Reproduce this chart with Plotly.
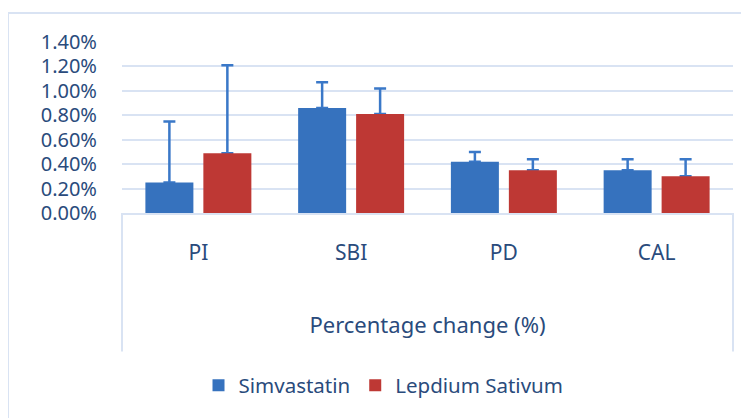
import plotly.graph_objects as go

categories = ["PI", "SBI", "PD", "CAL"]
simvastatin = [0.0025, 0.0086, 0.0042, 0.0035]
simvastatin_err = [0.0050, 0.0021, 0.0008, 0.0009]
lepidium = [0.0049, 0.0081, 0.0035, 0.0030]
lepidium_err = [0.0072, 0.0021, 0.0009, 0.0014]
tick_vals = [0, 0.002, 0.004, 0.006, 0.008, 0.010, 0.012, 0.014]

TEXT = "#2A4B7C"
GRID = "#D9E3F3"
FONT = "Noto Sans"
ERR = dict(color="#3A78C8", thickness=2.5, width=6)

fig = go.Figure()
# error-bar carriers (drawn first, so the bars hide the lower caps)
fig.add_trace(go.Bar(
    x=categories, y=simvastatin, offsetgroup="s", showlegend=False, hoverinfo="skip",
    marker=dict(color="rgba(0,0,0,0)", line=dict(width=0)),
    error_y=dict(type="data", array=simvastatin_err, arrayminus=[0]*4, symmetric=False, **ERR),
))
fig.add_trace(go.Bar(
    x=categories, y=lepidium, offsetgroup="l", showlegend=False, hoverinfo="skip",
    marker=dict(color="rgba(0,0,0,0)", line=dict(width=0)),
    error_y=dict(type="data", array=lepidium_err, arrayminus=[0]*4, symmetric=False, **ERR),
))
fig.add_trace(go.Bar(
    name="Simvastatin", x=categories, y=simvastatin, offsetgroup="s",
    marker=dict(color="#3672BE", line=dict(width=0)),
))
fig.add_trace(go.Bar(
    name="Lepdium Sativum", x=categories, y=lepidium, offsetgroup="l",
    marker=dict(color="#BE3834", line=dict(width=0)),
))

fig.update_layout(
    width=749, height=418,
    margin=dict(l=114, r=24, t=34, b=213, autoexpand=False),
    paper_bgcolor="white", plot_bgcolor="white",
    font=dict(family=FONT, size=20, color=TEXT),
    barmode="group", bargap=0.241, bargroupgap=0.172,
    showlegend=True,
    legend=dict(orientation="h", x=0.428, xanchor="center", y=-1.008, yanchor="middle",
                font=dict(family=FONT, size=20.5, color=TEXT), itemwidth=30,
                bgcolor="rgba(0,0,0,0)"),
    xaxis=dict(showline=True, linecolor=GRID, linewidth=2, showgrid=False, automargin=False,
               ticks="outside", ticklen=20, tickcolor="rgba(0,0,0,0)",
               tickfont=dict(family=FONT, size=21, color=TEXT),
               title=dict(text="Percentage change (%)", standoff=52,
                          font=dict(family=FONT, size=22, color=TEXT))),
    yaxis=dict(range=[0, 0.014], tickvals=tick_vals, tickformat=".2%", automargin=False,
               showgrid=True, gridcolor=GRID, gridwidth=2, zeroline=False,
               showline=False, ticks="outside", ticklen=20, tickcolor="rgba(0,0,0,0)",
               tickfont=dict(family=FONT, size=20, color=TEXT)),
)

# category-axis box separators and outer chart border
line_style = dict(color=GRID, width=2)
fig.add_shape(type="line", xref="paper", yref="paper", x0=0, x1=0, y0=0, y1=-0.81, line=line_style)
fig.add_shape(type="line", xref="paper", yref="paper", x0=1.0, x1=1.0, y0=0, y1=-0.81, line=line_style)
fig.add_shape(type="line", xref="paper", yref="paper", x0=-0.1866, x1=-0.1866, y0=1.169, y1=-1.25, line=line_style)
fig.add_shape(type="line", xref="paper", yref="paper", x0=-0.1866, x1=1.05, y0=1.169, y1=1.169, line=line_style)

fig.write_html("out.html")
